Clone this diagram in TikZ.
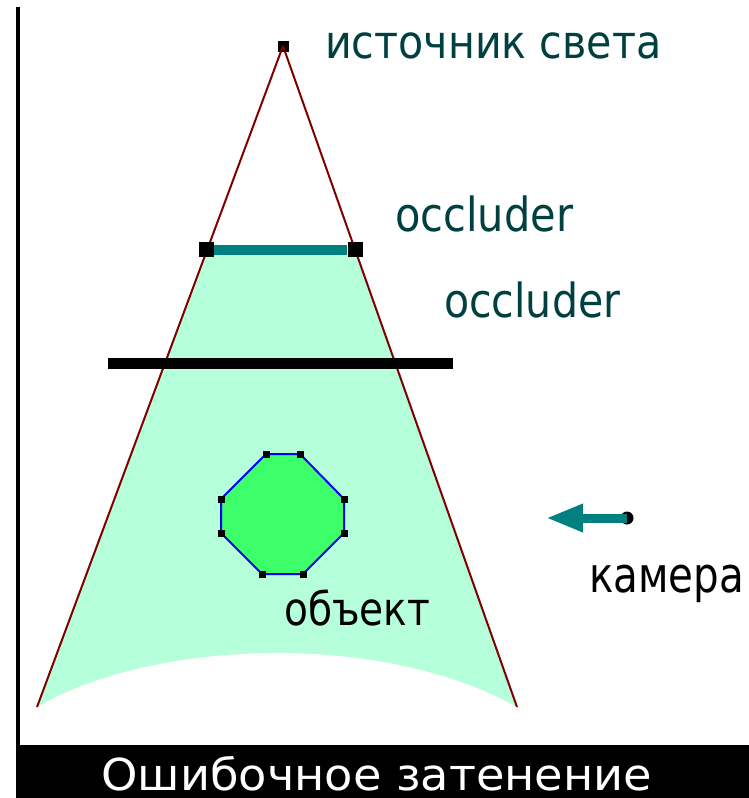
\documentclass[tikz,border=0pt]{standalone}
\usepackage{fontspec}
\usepackage{graphicx}
\setmainfont{DejaVu Sans}
\usetikzlibrary{arrows.meta}
\definecolor{ray}{RGB}{128,0,0}
\definecolor{occ}{RGB}{0,128,128}
\definecolor{lbl}{RGB}{0,64,64}
\definecolor{lit}{RGB}{181,255,218}
\definecolor{obj}{RGB}{60,255,106}
\newcommand\fitto[2]{\resizebox{#1}{\height}{#2}}
\begin{document}
\begin{tikzpicture}[x=1pt,y=-1pt,
  endsq/.style={fill=black,minimum size=15pt,inner sep=0pt,draw=none},
  srcsq/.style={fill=black,minimum size=11pt,inner sep=0pt,draw=none},
  vtx/.style={fill=black,minimum size=7pt,inner sep=0pt,draw=none},
  txt/.style={inner sep=0pt,anchor=base west},
  raylin/.style={draw=ray,line width=2pt}]
\useasboundingbox (0,0) rectangle (749,798);
\fill[white] (0,0) rectangle (749,798);
% left frame line and caption bar
\fill[black] (16,7) rectangle (20,798);
\fill[black] (16,745) rectangle (749,798);
% lit region
\coordinate (lb) at (37,707);
\coordinate (rb) at (517,707);
\fill[lit] (207,249) -- (355,249) -- (rb) .. controls (380,630) and (150,640) .. (lb) -- cycle;
% rays
\node[srcsq] (light) at (283,46) {};
\draw[raylin] (light.center) -- (lb);
\draw[raylin] (light.center) -- (rb);
% occluder 1
\node[endsq] (o1a) at (206.5,249.5) {};
\node[endsq] (o1b) at (355,249.5) {};
\draw[occ,line width=10pt] (o1a.east) -- (o1b.west);
% occluder 2
\coordinate (o2a) at (108,363);
\coordinate (o2b) at (453,363);
\draw[black,line width=11pt] (o2a) -- (o2b);
% object octagon
\coordinate (p1) at (266,454);
\coordinate (p2) at (300,454);
\coordinate (p3) at (344,499);
\coordinate (p4) at (344,533);
\coordinate (p5) at (303,574);
\coordinate (p6) at (262,574);
\coordinate (p7) at (221,533);
\coordinate (p8) at (221,499);
\filldraw[fill=obj,draw=blue,line width=2pt] (p1)--(p2)--(p3)--(p4)--(p5)--(p6)--(p7)--(p8)--cycle;
\foreach \p in {p1,p2,p3,p4,p5,p6,p7,p8} \node[vtx] at (\p) {};
% camera
\node[circle,fill=black,minimum size=13pt,inner sep=0pt] (cam) at (627,518) {};
\coordinate (camtip) at (546,518);
\draw[occ,line width=9pt,-{Triangle[length=37pt,width=26pt]}] (cam.center) -- (camtip);
% labels
\node[txt,text=lbl,font=\fontsize{46}{50}\selectfont] (tsrc) at (325,58) {\fitto{336pt}{источник света}};
\node[txt,text=lbl,font=\fontsize{47}{50}\selectfont] (tocc1) at (395,231) {\fitto{178pt}{occluder}};
\node[txt,text=lbl,font=\fontsize{47}{50}\selectfont] (tocc2) at (444,317) {\fitto{176pt}{occluder}};
\node[txt,text=black,font=\fontsize{46}{50}\selectfont] (tobj) at (284,625) {\fitto{146pt}{объект}};
\node[txt,text=black,font=\fontsize{49}{52}\selectfont] (tcam) at (589,592) {\fitto{155pt}{камера}};
\node[txt,text=white,font=\fontsize{44}{50}\selectfont] (tcap) at (101,790) {\fitto{551pt}{Ошибочное затенение}};
\end{tikzpicture}
\end{document}
